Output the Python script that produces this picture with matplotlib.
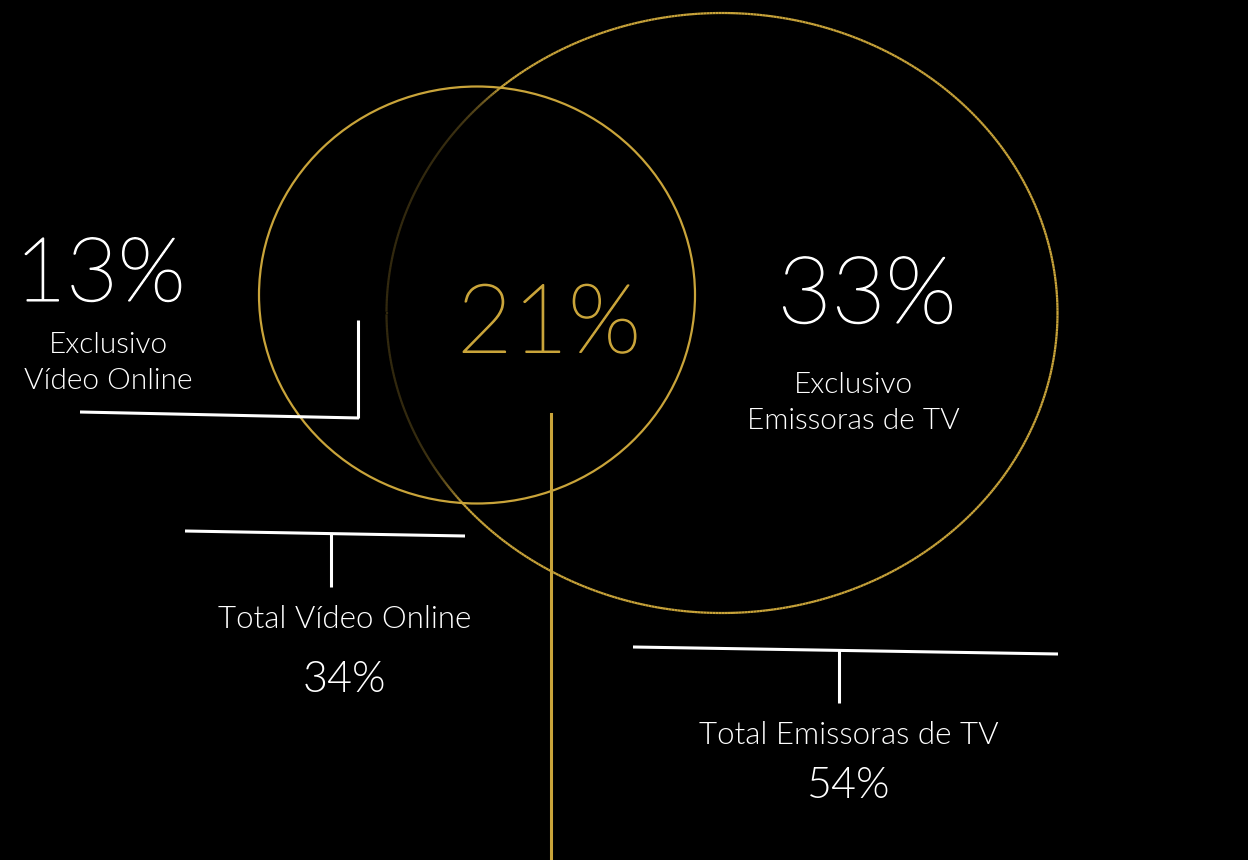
import numpy as np
import matplotlib.pyplot as plt
import matplotlib.patheffects as pe
from matplotlib.patches import Ellipse
from matplotlib.collections import LineCollection

plt.rcParams['font.family'] = ['Lato', 'DejaVu Sans']

# shares of the audience (percent)
exclusive_labels = ['Exclusivo\nVídeo Online', 'Exclusivo\nEmissoras de TV']
exclusive_values = [13, 33]
overlap_value = 21
total_labels = ['Total Vídeo Online', 'Total Emissoras de TV']
total_values = [34, 54]

GOLD = '#c9a43a'
W, H = 1248, 860

fig = plt.figure(figsize=(W / 100, H / 100), dpi=100, facecolor='black')
ax = fig.add_axes([0, 0, 1, 1])
ax.set_xlim(0, W)
ax.set_ylim(H, 0)
ax.set_facecolor('black')
ax.axis('off')

# small circle: online video, big circle: TV broadcasters
small = dict(cx=477, cy=295, w=436, h=417)
big = dict(cx=722, cy=313, w=671, h=600)

ax.add_patch(Ellipse((small['cx'], small['cy']), small['w'], small['h'],
                     fill=False, ec=GOLD, lw=1.6, zorder=3))

# big ellipse drawn as segments, faded where it runs inside the small one
t = np.linspace(0, 2 * np.pi, 720)
bx = big['cx'] + big['w'] / 2 * np.cos(t)
by = big['cy'] + big['h'] / 2 * np.sin(t)
pts = np.column_stack([bx, by])
segs = np.stack([pts[:-1], pts[1:]], axis=1)
mx = (segs[:, 0, 0] + segs[:, 1, 0]) / 2
my = (segs[:, 0, 1] + segs[:, 1, 1]) / 2
d = ((mx - small['cx']) / (small['w'] / 2)) ** 2 + ((my - small['cy']) / (small['h'] / 2)) ** 2
alpha = np.where(d < 1, 0.25 + 0.75 * np.clip(d, 0, 1) ** 6, 1.0)
cols = np.zeros((len(segs), 4))
cols[:, :3] = [0xc9 / 255, 0xa4 / 255, 0x3a / 255]
cols[:, 3] = alpha
ax.add_collection(LineCollection(segs, colors=cols, lw=1.6, zorder=2))

# connector lines
wl = dict(color='white', lw=2.2, solid_capstyle='butt', zorder=4)
ax.plot([80, 359], [412, 418], **wl)
ax.plot([358, 358], [320, 418], **wl)
ax.plot([185, 465], [531, 536], **wl)
ax.plot([331, 331], [533, 587], **wl)
ax.plot([633, 1058], [647, 654], **wl)
ax.plot([839, 839], [650, 703], **wl)
ax.plot([551, 551], [414, 860], color=GOLD, lw=2.2, zorder=4)

txt = dict(color='white', ha='center', va='center', fontweight=300)


def thin_big(x, y, s, size, color):
    # hairline face thickened a little with a stroke of its own colour
    ax.text(x, y, s, fontsize=size, color=color, ha='center', va='center',
            fontweight=100,
            path_effects=[pe.Stroke(linewidth=1.1, foreground=color), pe.Normal()])


thin_big(100, 277, f'{exclusive_values[0]}%', 64, 'white')
ax.text(108, 363, exclusive_labels[0], fontsize=21.5, linespacing=1.5, **txt)

thin_big(867, 298, f'{exclusive_values[1]}%', 67, 'white')
ax.text(853, 403, exclusive_labels[1], fontsize=21.5, linespacing=1.5, **txt)

thin_big(549, 326, f'{overlap_value}%', 69, GOLD)

ax.text(345, 620, total_labels[0], fontsize=22.5, **txt)
ax.text(344, 681, f'{total_values[0]}%', fontsize=31, **txt)
ax.text(849, 735, total_labels[1], fontsize=22.5, **txt)
ax.text(849, 787, f'{total_values[1]}%', fontsize=31, **txt)

fig.savefig('out.png', dpi=100, facecolor='black')
